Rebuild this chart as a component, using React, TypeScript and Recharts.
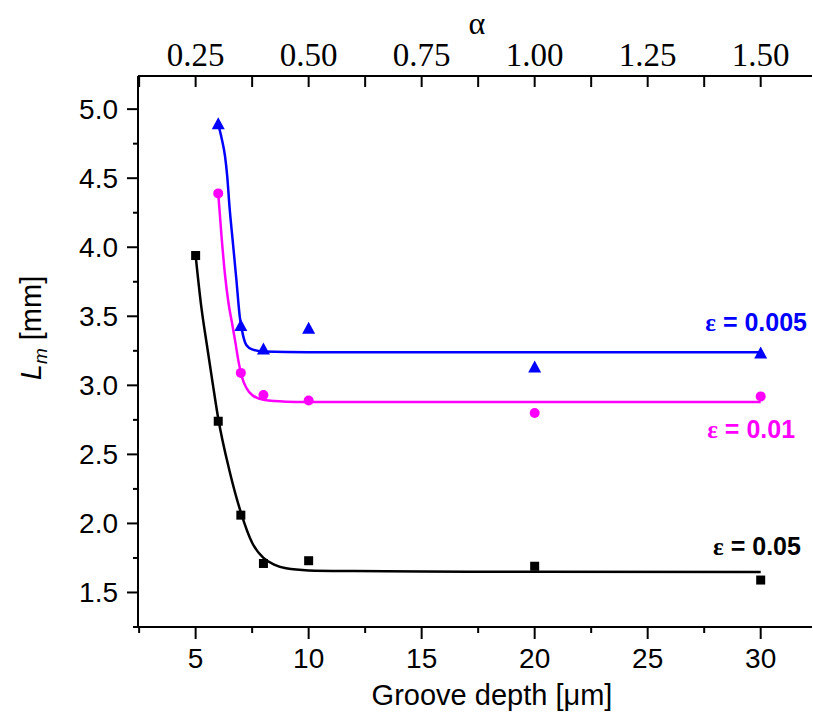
import { ComposedChart, Line, Scatter, XAxis, YAxis, ReferenceDot, Label } from "recharts";

// tick positions (groove depth, µm) and their α labels on the top axis
const depthTicks = [2.5, 5, 7.5, 10, 12.5, 15, 17.5, 20, 22.5, 25, 27.5, 30];
const depthMajor = [5, 10, 15, 20, 25, 30];
const alphaLabels = ["0.25", "0.50", "0.75", "1.00", "1.25", "1.50"];
const lmTicks = [1.25, 1.5, 1.75, 2, 2.25, 2.5, 2.75, 3, 3.25, 3.5, 3.75, 4, 4.25, 4.5, 4.75, 5];

// measured points
const depthEps005 = [6, 7, 8, 10, 20, 30];
const lmEps005 = [4.89, 3.43, 3.26, 3.41, 3.13, 3.23];
const depthEps01 = [6, 7, 8, 10, 20, 30];
const lmEps01 = [4.39, 3.09, 2.93, 2.89, 2.8, 2.92];
const depthEps05 = [5, 6, 7, 8, 10, 20, 30];
const lmEps05 = [3.94, 2.74, 2.06, 1.71, 1.73, 1.69, 1.59];

// fitted curves
const fitDepth005 = [6, 6.15, 6.3, 6.4, 6.5, 6.65, 6.8, 6.95, 7.1, 7.25, 7.5, 8, 10, 20, 30];
const fitLm005 = [4.89, 4.79, 4.66, 4.51, 4.29, 4.03, 3.77, 3.5, 3.36, 3.29, 3.26, 3.245, 3.24, 3.24, 3.24];
const fitDepth01 = [6, 6.15, 6.3, 6.45, 6.6, 6.75, 6.9, 7.05, 7.25, 7.5, 8, 9, 10, 30];
const fitLm01 = [4.39, 4.07, 3.8, 3.6, 3.46, 3.32, 3.17, 3.06, 2.98, 2.93, 2.895, 2.882, 2.88, 2.88];
const fitDepth05 = [5, 5.25, 5.5, 5.75, 6, 6.5, 7, 7.5, 8, 8.5, 9, 10, 12, 15, 20, 30];
const fitLm05 = [3.94, 3.57, 3.29, 3.02, 2.76, 2.38, 2.08, 1.86, 1.75, 1.7, 1.675, 1.66, 1.655, 1.652, 1.65, 1.648];

// curve labels: text, anchor (depth, Lm), colour
const labelTexts = ["0.005", "0.01", "0.05"];
const labelDepth = [32.05, 31.52, 31.78];
const labelLm = [3.39, 2.62, 1.775];
const colors = ["#0000ff", "#ff00ff", "#000000"];

const zip = (xs: number[], ys: number[]) => xs.map((x, i) => ({ x, y: ys[i] }));

const SANS = "'Liberation Sans', Arial, sans-serif";
const SERIF = "'Liberation Serif', 'Times New Roman', serif";
const X_DOMAIN: [number, number] = [2.45, 32.27];
const Y_DOMAIN: [number, number] = [1.25, 5.24];

const BottomTick = (props: any) => {
  const { x, y, payload } = props;
  const major = depthMajor.includes(payload.value);
  return (
    <g>
      <line x1={x} x2={x} y1={y} y2={y + (major ? 12 : 6)} stroke="#000" strokeWidth={2} />
      {major && (
        <text x={x} y={y + 41} textAnchor="middle" fontSize={28} fontFamily={SANS} fill="#000">
          {payload.value}
        </text>
      )}
    </g>
  );
};

const TopTick = (props: any) => {
  const { x, y, payload } = props;
  const idx = depthMajor.indexOf(payload.value);
  return (
    <g>
      <line x1={x} x2={x} y1={y} y2={y + 11} stroke="#000" strokeWidth={2} />
      {idx >= 0 && (
        <text x={x} y={y - 10} textAnchor="middle" fontSize={33} fontFamily={SERIF} fill="#000">
          {alphaLabels[idx]}
        </text>
      )}
    </g>
  );
};

const LeftTick = (props: any) => {
  const { x, y, payload } = props;
  const major = Math.abs(payload.value * 2 - Math.round(payload.value * 2)) < 1e-6;
  return (
    <g>
      <line x1={x} x2={x - (major ? 11 : 5)} y1={y} y2={y} stroke="#000" strokeWidth={2} />
      {major && (
        <text x={x - 20} y={y + 10} textAnchor="end" fontSize={28} fontFamily={SANS} fill="#000">
          {payload.value.toFixed(1)}
        </text>
      )}
    </g>
  );
};

const Square = (p: any) => <rect x={p.cx - 4.5} y={p.cy - 4.5} width={9} height={9} fill="#000" />;
const Dot = (p: any) => <circle cx={p.cx} cy={p.cy} r={5} fill="#ff00ff" />;
const Tri = (p: any) => (
  <polygon points={`${p.cx},${p.cy - 7} ${p.cx - 6.5},${p.cy + 5} ${p.cx + 6.5},${p.cy + 5}`} fill="#0000ff" />
);

const CurveLabel = (i: number) => (p: any) => (
  <text x={p.cx} y={p.cy} textAnchor="end" fontSize={25} fontWeight="bold" fontFamily={SANS} fill={colors[i]}>
    <tspan fontFamily={SERIF}>ε</tspan>
    {" = " + labelTexts[i]}
  </text>
);

export default function App() {
  return (
    <div style={{ position: "fixed", left: 0, top: 0, width: 813, height: 717, background: "#fff" }}>
      <ComposedChart width={813} height={717} margin={{ top: 0, right: 1, bottom: 0, left: 0 }}>
        <XAxis
          dataKey="x"
          type="number"
          domain={X_DOMAIN}
          allowDataOverflow
          ticks={depthTicks}
          interval={0}
          tickSize={0}
          tickMargin={0}
          height={90}
          axisLine={{ stroke: "#000", strokeWidth: 2 }}
          tick={<BottomTick />}
        >
          <Label
            content={() => (
              <text x={492} y={705} textAnchor="middle" fontSize={29} fontFamily={SANS} fill="#000">
                Groove depth [μm]
              </text>
            )}
          />
        </XAxis>
        <XAxis
          xAxisId="top"
          orientation="top"
          dataKey="x"
          type="number"
          domain={X_DOMAIN}
          allowDataOverflow
          ticks={depthTicks}
          interval={0}
          tickSize={0}
          tickMargin={0}
          height={76}
          axisLine={{ stroke: "#000", strokeWidth: 2 }}
          tick={<TopTick />}
        >
          <Label
            content={() => (
              <text x={477} y={34} textAnchor="middle" fontSize={32} fontFamily={SERIF} fill="#000">
                α
              </text>
            )}
          />
        </XAxis>
        <YAxis
          dataKey="y"
          type="number"
          domain={Y_DOMAIN}
          allowDataOverflow
          ticks={lmTicks}
          interval={0}
          tickSize={0}
          tickMargin={0}
          width={138}
          axisLine={{ stroke: "#000", strokeWidth: 2 }}
          tick={<LeftTick />}
        >
          <Label
            content={() => (
              <text
                transform="translate(41 328) rotate(-90)"
                textAnchor="middle"
                fontSize={29}
                fontFamily={SANS}
                fill="#000"
              >
                <tspan fontStyle="italic">L</tspan>
                <tspan fontStyle="italic" fontSize={19} dy={6}>m</tspan>
                <tspan dy={-6}> [mm]</tspan>
              </text>
            )}
          />
        </YAxis>

        <Line data={zip(fitDepth005, fitLm005)} dataKey="y" type="monotone" stroke={colors[0]} strokeWidth={2.5} dot={false} isAnimationActive={false} />
        <Line data={zip(fitDepth01, fitLm01)} dataKey="y" type="monotone" stroke={colors[1]} strokeWidth={2.5} dot={false} isAnimationActive={false} />
        <Line data={zip(fitDepth05, fitLm05)} dataKey="y" type="monotone" stroke={colors[2]} strokeWidth={2.5} dot={false} isAnimationActive={false} />

        <Scatter data={zip(depthEps005, lmEps005)} dataKey="y" shape={Tri} isAnimationActive={false} />
        <Scatter data={zip(depthEps01, lmEps01)} dataKey="y" shape={Dot} isAnimationActive={false} />
        <Scatter data={zip(depthEps05, lmEps05)} dataKey="y" shape={Square} isAnimationActive={false} />

        {labelTexts.map((t, i) => (
          <ReferenceDot key={t} x={labelDepth[i]} y={labelLm[i]} r={0} ifOverflow="visible" shape={CurveLabel(i)} />
        ))}
      </ComposedChart>
    </div>
  );
}
